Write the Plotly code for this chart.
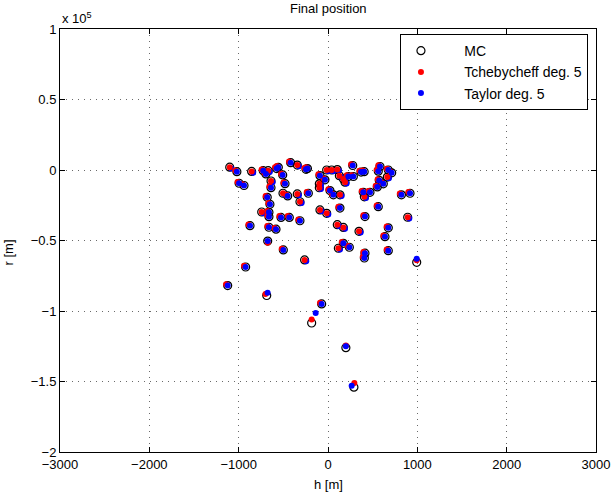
import plotly.graph_objects as go

# Monte Carlo reference positions (h in m, r in m)
mc_h = [-1100, -1020, -855, -995, -940, -725, -695, -670, -556, -575,
        -507, -418, -344, -246, -230, -638, -638, -481, -504, -451,
        -344, -314, -220, -680, -650, -742, -661, -661, -526, -433,
        -314, -873, -661, -582, -675, -500, -262, -922, -90, -15,
        41, 104, 127, 172, 190, 228, 284, 277, 370, 405,
        582, 563, 675, 713, 664, 574, 619, 552, -97, -97,
        -34, 22, 60, 134, 395, 470, 407, 822, 918, -90,
        -15, 134, 563, 414, 892, 104, 172, 347, 675, 638,
        172, 116, 239, 414, 407, 675, 993, -1123, -686, -71,
        -183, 200, 290]
mc_r = [2000, -1200, -1000, -9400, -11000, -500, -2800, -500, 1900, 1000,
        -3500, 5200, 3500, 500, 1000, -7800, -12500, -9700, -16500, -18400,
        -17000, -22500, -16500, -19400, -24300, -29800, -30000, -33100, -33600, -33600,
        -36000, -39500, -40600, -42000, -50400, -56700, -63800, -68800, -4000, 0,
        0, 300, -4000, -6300, -8600, -4600, -4600, 3200, -1500, -1200,
        2500, -800, 0, -2000, -5000, -7400, -9800, -12000, -9800, -12600,
        -7000, -14600, -17600, -17600, -15800, -15800, -19000, -17600, -16500, -28300,
        -30700, -27000, -26000, -33000, -33500, -38800, -40700, -43500, -41000, -47300,
        -52000, -55500, -54800, -59000, -62400, -57200, -65500, -82000, -89000, -95000,
        -108500, -126000, -154000]

# Tchebycheff deg. 5
tch_h = [-1100, -1038, -855, -1013, -958, -743, -713, -670, -574, -593,
         -525, -436, -344, -264, -248, -638, -656, -499, -504, -469,
         -344, -314, -238, -698, -668, -742, -679, -679, -544, -451,
         -332, -891, -679, -600, -675, -518, -262, -940, -108, -15,
         41, 104, 127, 172, 190, 210, 266, 259, 352, 387,
         564, 545, 657, 695, 664, 556, 601, 534, -97, -97,
         -52, 4, 42, 134, 377, 452, 407, 804, 900, -90,
         -15, 116, 545, 396, 892, 104, 172, 347, 657, 620,
         154, 116, 221, 396, 389, 657, 993, -1141, -700, -89,
         -183, 200, 295]
tch_r = [2000, -300, -1000, -8500, -10100, 400, -1900, -500, 2800, 1900,
         -2600, 6100, 3500, 1400, 1900, -7800, -11600, -8800, -16500, -17500,
         -17000, -22500, -15600, -18500, -23400, -29800, -29100, -32200, -32700, -32700,
         -35100, -38600, -39700, -41100, -51600, -55800, -63800, -67900, -3100, 0,
         0, 300, -4000, -6300, -8600, -3700, -3700, 4100, -600, -300,
         3400, 100, 900, -1100, -5000, -6500, -8900, -11100, -9800, -12600,
         -6100, -13700, -16700, -17600, -14900, -14900, -19000, -16700, -15600, -28300,
         -30700, -26100, -25100, -32100, -33500, -38800, -40700, -43500, -40100, -46400,
         -51100, -55500, -53900, -58100, -61500, -56300, -64000, -81100, -88000, -94100,
         -106000, -124500, -151000]

# Taylor deg. 5
tay_h = [-1082, -1020, -837, -995, -940, -725, -695, -652, -556, -575,
         -507, -418, -326, -246, -230, -620, -638, -481, -486, -451,
         -326, -296, -220, -680, -650, -724, -661, -661, -526, -433,
         -314, -873, -661, -582, -675, -500, -244, -922, -90, 3,
         59, 122, 145, 190, 208, 228, 284, 277, 370, 405,
         582, 563, 675, 713, 682, 574, 619, 552, -79, -79,
         -34, 22, 60, 152, 395, 470, 425, 822, 918, -72,
         3, 134, 563, 414, 910, 122, 190, 365, 675, 638,
         172, 134, 239, 414, 407, 675, 993, -1123, -676, -71,
         -138, 200, 265]
tay_r = [1100, -1200, -1900, -9400, -11000, -500, -2800, -1400, 1900, 1000,
         -3500, 5200, 2600, 500, 1000, -8700, -12500, -9700, -17400, -18400,
         -17900, -23400, -16500, -19400, -24300, -30700, -30000, -33100, -33600, -33600,
         -36000, -39500, -40600, -42000, -50400, -56700, -64700, -68800, -4000, -900,
         -900, -600, -4900, -7200, -9500, -4600, -4600, 3200, -1500, -1200,
         2500, -800, 0, -2000, -5900, -7400, -9800, -12000, -10700, -13500,
         -7000, -14600, -17600, -18500, -15800, -15800, -19900, -17600, -16500, -29200,
         -31600, -27000, -26000, -33000, -34400, -39700, -41600, -44400, -41000, -47300,
         -52000, -56400, -54800, -59000, -62400, -57200, -63000, -82000, -87000, -95000,
         -101500, -125000, -153000]

# drawing order flag: 1 where the red marker sits on top of the blue one
red_on_top = [1, 0, 1, 0, 0, 0, 0, 1, 0, 0,
              0, 0, 1, 0, 0, 1, 0, 0, 1, 0,
              1, 1, 0, 0, 0, 1, 0, 0, 0, 0,
              0, 0, 0, 0, 0, 0, 1, 0, 0, 1,
              1, 1, 1, 1, 1, 0, 0, 0, 0, 0,
              0, 0, 0, 0, 1, 0, 0, 0, 1, 1,
              0, 0, 0, 1, 0, 0, 1, 0, 0, 1,
              1, 0, 0, 0, 1, 1, 1, 1, 0, 0,
              0, 1, 0, 0, 0, 0, 0, 0, 0, 0,
              0, 0, 0]

x_ticks = [-3000, -2000, -1000, 0, 1000, 2000, 3000]
x_tick_text = ["\u22123000", "\u22122000", "\u22121000", "0", "1000", "2000", "3000"]
y_ticks = [-200000, -150000, -100000, -50000, 0, 50000, 100000]
y_tick_text = ["\u22122", "\u22121.5", "\u22121", "\u22120.5", "0", "0.5", "1"]

FONT = "Liberation Sans, Arial, sans-serif"
PAD = "\u00a0" * 6

under_h = [h for h, f in zip(tay_h, red_on_top) if f]
under_r = [r for r, f in zip(tay_r, red_on_top) if f]
over_h = [h for h, f in zip(tay_h, red_on_top) if not f]
over_r = [r for r, f in zip(tay_r, red_on_top) if not f]

fig = go.Figure()
fig.add_trace(go.Scatter(x=mc_h, y=mc_r, mode="markers", name=PAD + "MC",
                         marker=dict(symbol="circle-open", size=8, color="black",
                                     line=dict(width=1.2, color="black"))))
fig.add_trace(go.Scatter(x=under_h, y=under_r, mode="markers", name=PAD + "Taylor deg. 5",
                         legendgroup="tay", showlegend=False,
                         marker=dict(symbol="circle", size=6, color="#0000ff")))
fig.add_trace(go.Scatter(x=tch_h, y=tch_r, mode="markers", name=PAD + "Tchebycheff deg. 5",
                         marker=dict(symbol="circle", size=6, color="#ff0000")))
fig.add_trace(go.Scatter(x=over_h, y=over_r, mode="markers", name=PAD + "Taylor deg. 5",
                         legendgroup="tay",
                         marker=dict(symbol="circle", size=6, color="#0000ff")))

axis_common = dict(showline=True, linecolor="black", linewidth=1, mirror="ticks",
                   ticks="inside", ticklen=5, tickcolor="black", zeroline=False,
                   automargin=False,
                   showgrid=True, gridcolor="#6a6a6a", griddash="1px,5px", gridwidth=1,
                   tickfont=dict(family=FONT, size=13, color="black"))

fig.update_xaxes(range=[-3000, 3000], tickvals=x_ticks, ticktext=x_tick_text, **axis_common)
fig.update_yaxes(range=[-200000, 100000], tickvals=y_ticks, ticktext=y_tick_text, **axis_common)

fig.update_layout(
    width=615, height=494,
    margin=dict(l=60, r=19, t=29, b=42, autoexpand=False),
    paper_bgcolor="white", plot_bgcolor="white",
    font=dict(family=FONT, size=13, color="black"),
    showlegend=True,
    legend=dict(x=0.985, y=0.988, xanchor="right", yanchor="top",
                bgcolor="white", bordercolor="black", borderwidth=1,
                tracegroupgap=0,
                font=dict(family=FONT, size=14, color="black")),
    annotations=[
        dict(text="Final position", xref="paper", yref="paper", x=0.5, y=1,
             xanchor="center", yanchor="bottom", yshift=11, showarrow=False,
             font=dict(family=FONT, size=13)),
        dict(text="h [m]", xref="paper", yref="paper", x=0.5, y=0,
             xanchor="center", yanchor="middle", yshift=-32, showarrow=False,
             font=dict(family=FONT, size=13)),
        dict(text="x 10<sup>5</sup>", xref="paper", yref="paper", x=0, y=1,
             xanchor="left", yanchor="bottom", yshift=1, showarrow=False,
             font=dict(family=FONT, size=13)),
        dict(text="r [m]", xref="paper", yref="paper", x=0, y=0.5,
             xanchor="center", yanchor="middle", xshift=-52, yshift=-12,
             textangle=-90, showarrow=False, font=dict(family=FONT, size=13)),
    ],
)

fig.write_html("out.html")
